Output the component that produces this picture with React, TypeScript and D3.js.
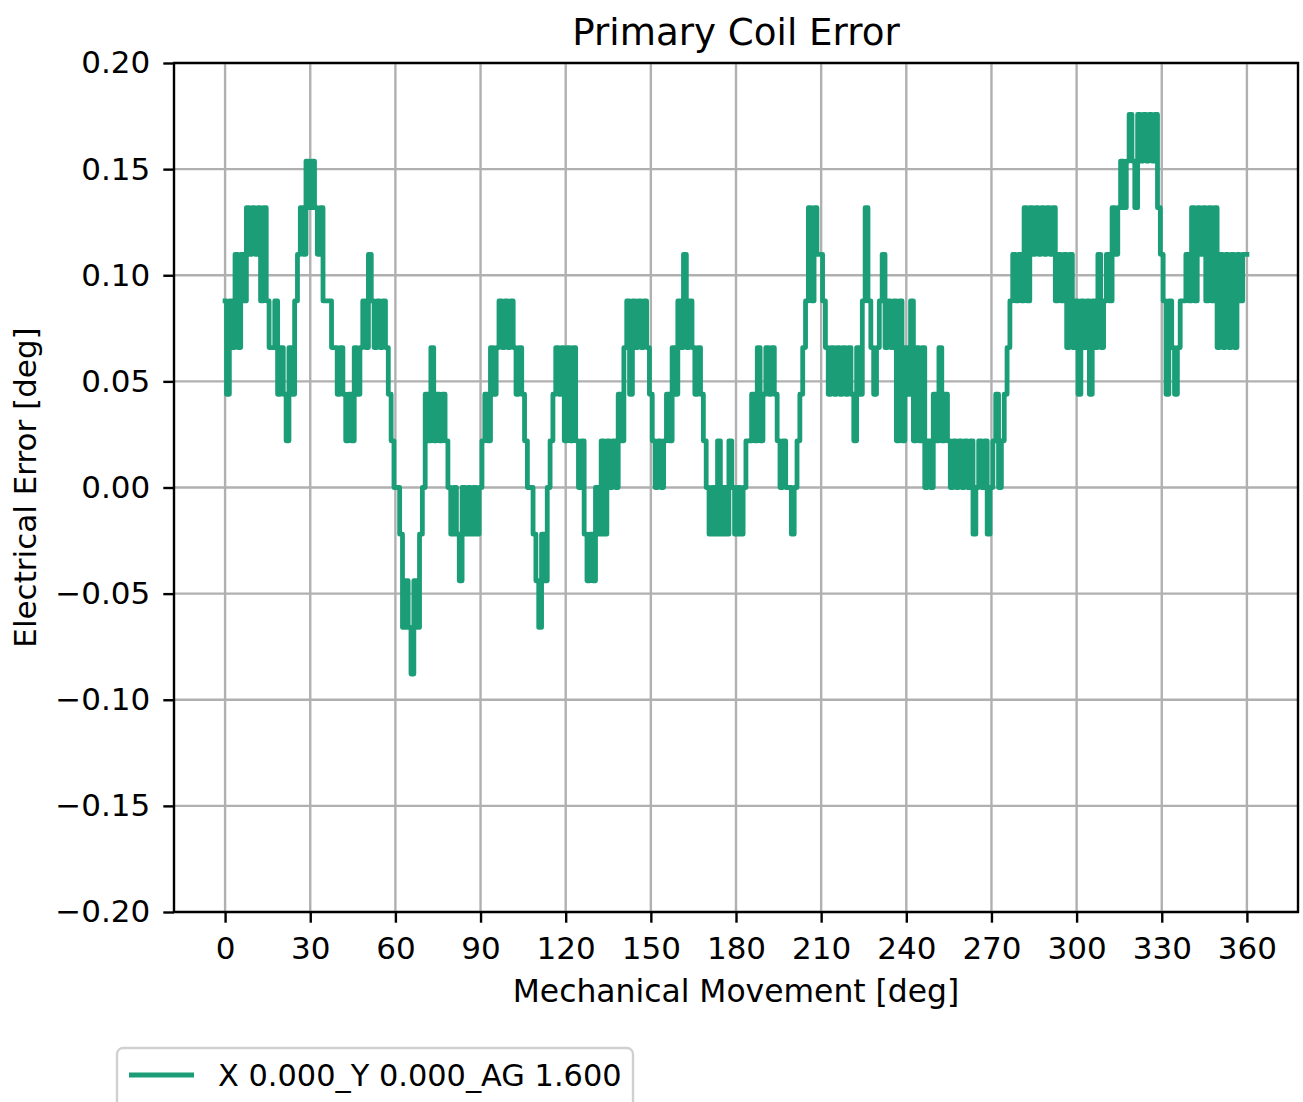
import React, { useEffect, useRef } from "react";
import * as d3 from "d3";

// electrical error in encoder counts (1 count = 360/16384 deg), one sample per mechanical degree 0..360
const errorCounts: number[] = [
  4, 2, 4, 3, 5, 3, 5, 4, 6, 5, // 0
  6, 5, 6, 4, 6, 4, 3, 3, 4, 2, // 10
  3, 2, 1, 3, 2, 4, 5, 6, 5, 7, // 20
  6, 7, 6, 5, 6, 4, 4, 4, 3, 3, // 30
  2, 3, 2, 1, 2, 1, 3, 2, 3, 4, // 40
  3, 5, 4, 3, 4, 3, 4, 3, 2, 1, // 50
  0, 0, -1, -3, -2, -3, -4, -2, -3, -1, // 60
  0, 2, 1, 3, 1, 2, 1, 2, 1, 0, // 70
  -1, 0, -1, -2, 0, -1, 0, -1, 0, -1, // 80
  0, 1, 2, 1, 3, 2, 3, 4, 3, 4, // 90
  3, 4, 3, 2, 3, 2, 1, 0, 0, -1, // 100
  -2, -3, -1, -2, 0, 1, 2, 3, 2, 3, // 110
  1, 3, 1, 3, 1, 0, 1, -1, -2, -1, // 120
  -2, 0, -1, 1, -1, 1, 0, 1, 0, 2, // 130
  1, 3, 4, 2, 4, 3, 4, 3, 4, 3, // 140
  2, 1, 0, 1, 0, 1, 2, 1, 3, 2, // 150
  4, 3, 5, 3, 4, 3, 2, 3, 2, 1, // 160
  0, -1, 0, -1, 1, -1, 0, -1, 1, 0, // 170
  -1, 0, -1, 0, 1, 1, 2, 1, 3, 1, // 180
  2, 3, 2, 3, 2, 1, 0, 1, 0, 0, // 190
  -1, 0, 1, 2, 3, 4, 6, 4, 6, 5, // 200
  5, 4, 3, 2, 3, 2, 3, 2, 3, 2, // 210
  3, 2, 1, 3, 2, 4, 6, 4, 3, 2, // 220
  3, 4, 5, 3, 4, 3, 4, 1, 4, 1, // 230
  3, 2, 4, 1, 3, 1, 3, 0, 1, 0, // 240
  2, 1, 3, 1, 2, 1, 0, 1, 0, 1, // 250
  0, 1, 0, 1, -1, 0, 1, 0, 1, -1, // 260
  0, 1, 2, 0, 1, 2, 3, 4, 5, 4, // 270
  5, 4, 6, 4, 6, 5, 6, 5, 6, 5, // 280
  6, 5, 6, 4, 5, 4, 5, 3, 5, 3, // 290
  4, 2, 4, 3, 4, 2, 4, 3, 5, 3, // 300
  4, 5, 4, 6, 5, 6, 7, 6, 7, 8, // 310
  7, 6, 8, 7, 8, 7, 8, 7, 8, 6, // 320
  5, 4, 2, 4, 3, 2, 3, 4, 4, 5, // 330
  4, 6, 4, 6, 5, 6, 4, 6, 4, 6, // 340
  3, 5, 3, 5, 3, 5, 3, 5, 4, 5, // 350
  5, // 360
];
const countToDeg = 360 / 16384;

const xTicks = [0, 30, 60, 90, 120, 150, 180, 210, 240, 270, 300, 330, 360];
const yTicks = [-0.2, -0.15, -0.1, -0.05, 0, 0.05, 0.1, 0.15, 0.2];
const seriesName = "X 0.000_Y 0.000_AG 1.600";

const App: React.FC = () => {
  const svgRef = useRef<SVGSVGElement | null>(null);

  useEffect(() => {
    document.body.style.margin = "0";
    const svg = d3.select(svgRef.current);
    svg.selectAll("*").remove();

    const font = "'DejaVu Sans', sans-serif";
    const fontSize = 31;
    const plot = { left: 174, right: 1298, top: 63, bottom: 912 };
    const lineColor = "#1b9e77";

    const data = errorCounts.map((c, i) => ({ deg: i, err: c * countToDeg }));

    const x = d3.scaleLinear().domain([-18, 378]).range([plot.left, plot.right]);
    const y = d3.scaleLinear().domain([-0.2, 0.2]).range([plot.bottom, plot.top]);

    svg.append("rect").attr("width", 1303).attr("height", 1102).attr("fill", "#fff");

    // grid
    const grid = svg.append("g").attr("stroke", "#b0b0b0").attr("stroke-width", 2.4);
    grid
      .selectAll("line.vx")
      .data(xTicks)
      .enter()
      .append("line")
      .attr("x1", (d) => x(d))
      .attr("x2", (d) => x(d))
      .attr("y1", plot.top)
      .attr("y2", plot.bottom);
    grid
      .selectAll("line.hy")
      .data(yTicks)
      .enter()
      .append("line")
      .attr("x1", plot.left)
      .attr("x2", plot.right)
      .attr("y1", (d) => y(d))
      .attr("y2", (d) => y(d));

    // series (quantized signal -> step transitions)
    const line = d3
      .line<{ deg: number; err: number }>()
      .x((d) => x(d.deg))
      .y((d) => y(d.err))
      .curve(d3.curveStep);
    svg
      .append("path")
      .datum(data)
      .attr("d", line)
      .attr("fill", "none")
      .attr("stroke", lineColor)
      .attr("stroke-width", 4.8)
      .attr("stroke-linejoin", "round")
      .attr("stroke-linecap", "square");

    // axes
    const xAxis = svg
      .append("g")
      .attr("transform", `translate(0,${plot.bottom})`)
      .call(d3.axisBottom(x).tickValues(xTicks).tickSize(10.7).tickPadding(14).tickFormat((d) => String(d)));
    const yAxis = svg
      .append("g")
      .attr("transform", `translate(${plot.left},0)`)
      .call(d3.axisLeft(y).tickValues(yTicks).tickSize(10.7).tickPadding(13).tickFormat(d3.format(".2f")));
    [xAxis, yAxis].forEach((g) => {
      g.select(".domain").remove();
      g.selectAll(".tick line").attr("stroke", "#000").attr("stroke-width", 2.4);
      g.selectAll(".tick text")
        .attr("fill", "#000")
        .style("font-family", font)
        .style("font-size", fontSize + "px");
    });

    // spines
    svg
      .append("rect")
      .attr("x", plot.left)
      .attr("y", plot.top)
      .attr("width", plot.right - plot.left)
      .attr("height", plot.bottom - plot.top)
      .attr("fill", "none")
      .attr("stroke", "#000")
      .attr("stroke-width", 2.4);

    // title & labels
    svg
      .append("text")
      .attr("x", (plot.left + plot.right) / 2)
      .attr("y", 45)
      .attr("text-anchor", "middle")
      .style("font-family", font)
      .style("font-size", "37.2px")
      .text("Primary Coil Error");
    svg
      .append("text")
      .attr("x", (plot.left + plot.right) / 2)
      .attr("y", 1002)
      .attr("text-anchor", "middle")
      .style("font-family", font)
      .style("font-size", "31.4px")
      .text("Mechanical Movement [deg]");
    svg
      .append("text")
      .attr("transform", `translate(36,${(plot.top + plot.bottom) / 2}) rotate(-90)`)
      .attr("text-anchor", "middle")
      .style("font-family", font)
      .style("font-size", fontSize + "px")
      .text("Electrical Error [deg]");

    // legend
    const legend = svg.append("g");
    legend
      .append("rect")
      .attr("x", 117)
      .attr("y", 1048)
      .attr("width", 516)
      .attr("height", 80)
      .attr("rx", 6)
      .attr("fill", "#fff")
      .attr("fill-opacity", 0.8)
      .attr("stroke", "#d0d0d0")
      .attr("stroke-width", 2.4);
    legend
      .append("line")
      .attr("x1", 129)
      .attr("x2", 194)
      .attr("y1", 1075)
      .attr("y2", 1075)
      .attr("stroke", lineColor)
      .attr("stroke-width", 4.8);
    legend
      .append("text")
      .attr("x", 218)
      .attr("y", 1086)
      .style("font-family", font)
      .style("font-size", "30.4px")
      .text(seriesName);
  }, []);

  return <svg ref={svgRef} width={1303} height={1102} style={{ display: "block" }}></svg>;
};

export default App;
